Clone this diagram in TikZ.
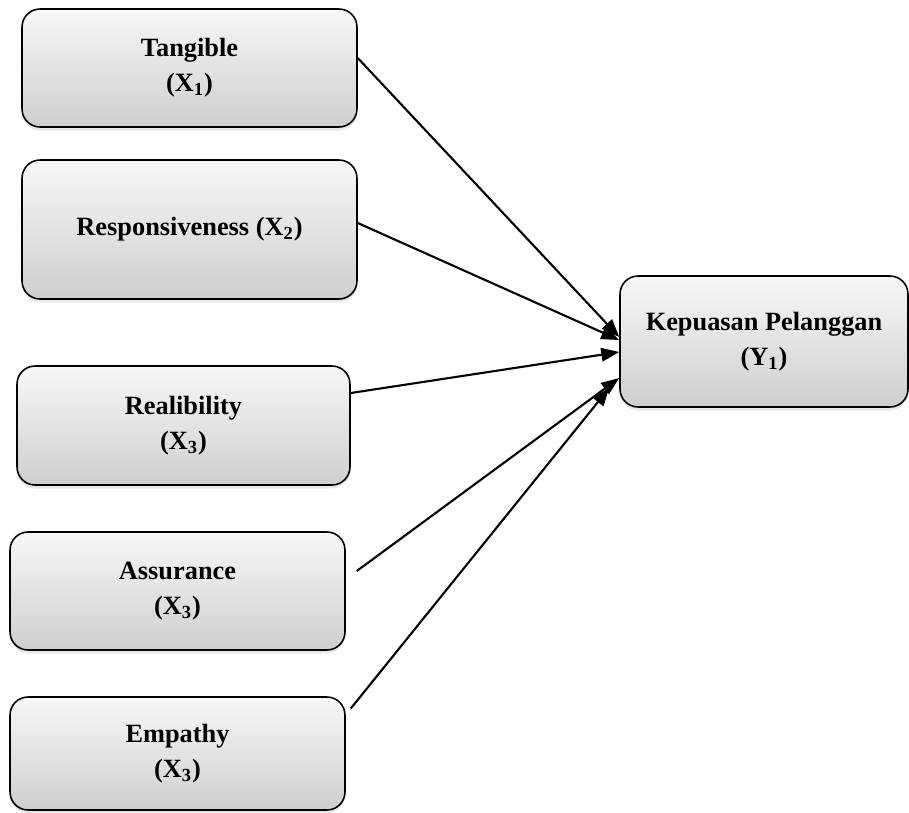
\documentclass[tikz,border=0pt]{standalone}
\usepackage{fontspec}
\setmainfont{Liberation Serif}
\usepackage{tikz}
\usetikzlibrary{arrows.meta,shadows}

\begin{document}
\begin{tikzpicture}
  [x=0.02cm,y=-0.02cm,
   var/.style={draw,line width=0.9pt,rounded corners=0.36cm,
     top color=gray!6,bottom color=gray!38,
     drop shadow={opacity=0.18,shadow xshift=0pt,shadow yshift=-2pt},
     align=center,font=\fontsize{15}{20}\selectfont\bfseries,
     minimum width=6.7cm,inner sep=0pt},
   link/.style={line width=1.2pt,-{Triangle[length=0.36cm,width=0.27cm]}}]
  \useasboundingbox (0,0) rectangle (909,812);
  \node[var,minimum height=2.36cm] (tang) at (189.5,68) {Tangible\\(X\textsubscript{1})};
  \node[var,minimum height=2.78cm] (resp) at (189.5,229.5) {Responsiveness (X\textsubscript{2})};
  \node[var,minimum width=6.66cm,minimum height=2.38cm] (real) at (183.5,425.5) {Realibility\\(X\textsubscript{3})};
  \node[var,minimum height=2.36cm] (assu) at (177.5,591) {Assurance\\(X\textsubscript{3})};
  \node[var,minimum height=2.26cm] (emp) at (177.5,753.5) {Empathy\\(X\textsubscript{3})};
  \node[var,minimum width=5.76cm,minimum height=2.62cm] (kep) at (764,341.5) {Kepuasan Pelanggan\\(Y\textsubscript{1})};

  % ends of the arrows
  \coordinate (s1) at ([yshift=0.2cm]tang.east);
  \coordinate (s2) at ([yshift=0.13cm]resp.east);
  \coordinate (s3) at ([yshift=0.65cm]real.east);
  \coordinate (s4) at ([xshift=0.22cm,yshift=0.4cm]assu.east);
  \coordinate (s5) at ([xshift=0.1cm,yshift=0.9cm]emp.east);
  \coordinate (e1) at ([yshift=0.09cm]kep.west);
  \coordinate (e2) at ([yshift=0.03cm]kep.west);
  \coordinate (e3) at ([yshift=-0.21cm]kep.west);
  \coordinate (e4) at ([yshift=-0.73cm]kep.west);
  \coordinate (e5) at ([xshift=-0.2cm,yshift=-0.93cm]kep.west);

  \foreach \from/\to in {s1/e1,s2/e2,s3/e3,s4/e4,s5/e5}
    \draw[link] (\from) -- (\to);
\end{tikzpicture}
\end{document}
